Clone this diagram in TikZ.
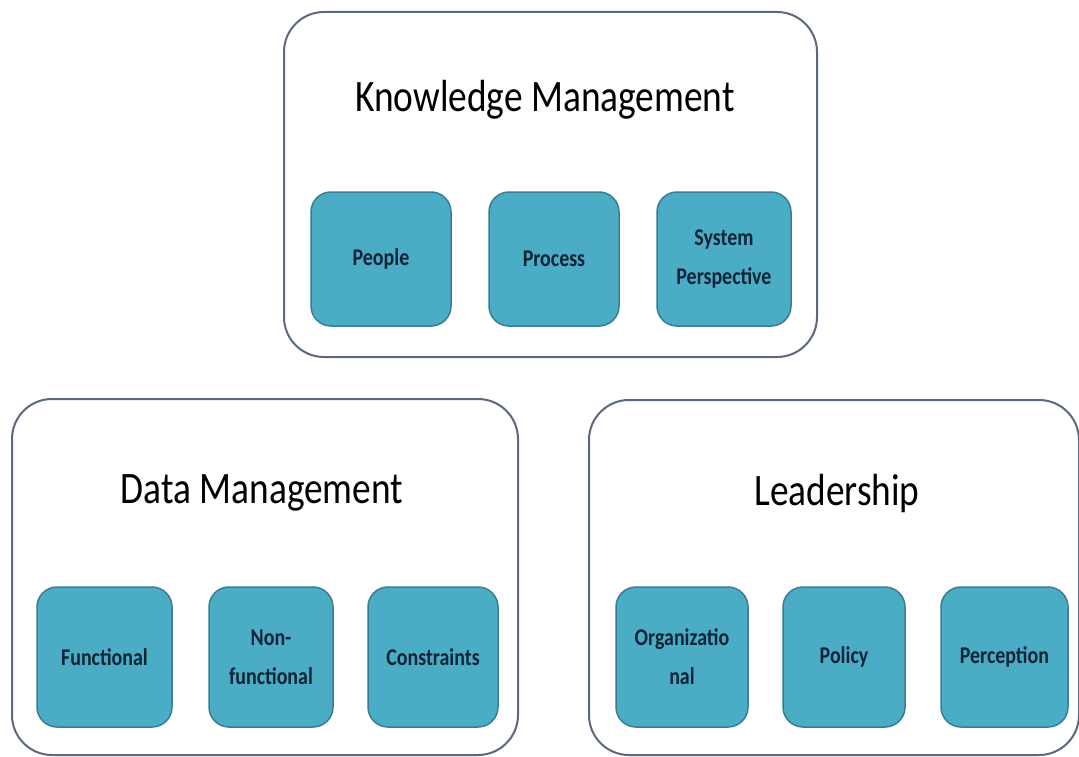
\documentclass[tikz,border=0pt]{standalone}
\usepackage{fontspec}
\setmainfont[FakeStretch=0.83]{Carlito}
\definecolor{boxfill}{HTML}{4BACC6}
\definecolor{boxline}{HTML}{3A7D92}
\definecolor{framecol}{HTML}{5C6780}
\definecolor{boxtext}{HTML}{0F2436}
\begin{document}
\begin{tikzpicture}[x=1pt,y=-1pt,
  container/.style={draw=framecol, line width=2pt, rounded corners=40pt, fill=white, inner sep=0pt},
  item/.style={draw=boxline, line width=1.5pt, fill=boxfill, rounded corners=20pt, inner sep=0pt,
    text=boxtext, font=\bfseries\fontsize{24}{39}\selectfont, align=center},
  title/.style={font=\fontsize{45}{54}\selectfont, text=black, anchor=base, inner sep=0pt}]
\useasboundingbox (0,0) rectangle (1079,757);
\fill[white] (0,0) rectangle (1079,757);

% containers
\node[container, minimum width=533pt, minimum height=345pt] (km) at (550.5,184.5) {};
\node[container, minimum width=506pt, minimum height=356pt] (dm) at (265,577) {};
\node[container, minimum width=490pt, minimum height=355pt] (ld) at (834,577.5) {};

% titles
\node[title] (kmt) at (545,112) {Knowledge Management};
\node[title] (dmt) at (262,503) {Data Management};
\node[title] (ldt) at (837,505) {Leadership};

% knowledge management items
\node[item, minimum width=140pt, minimum height=134pt] (people) at (381,259) {People};
\node[item, minimum width=130pt, minimum height=134pt] (process) at (554,259) {Process};
\node[item, minimum width=134pt, minimum height=134pt] (system) at (724,259) {System\\Perspective};

% data management items
\node[item, minimum width=135pt, minimum height=140pt] (functional) at (104.5,657) {Functional};
\node[item, minimum width=124pt, minimum height=140pt] (nonfunctional) at (271,657) {Non-\\functional};
\node[item, minimum width=130pt, minimum height=140pt] (constraints) at (433,657) {Constraints};

% leadership items
\node[item, minimum width=132pt, minimum height=140pt] (org) at (682,657) {Organizatio\\nal};
\node[item, minimum width=122pt, minimum height=140pt] (policy) at (844,657) {Policy};
\node[item, minimum width=127pt, minimum height=140pt] (perception) at (1004.5,657) {Perception};
\end{tikzpicture}
\end{document}
